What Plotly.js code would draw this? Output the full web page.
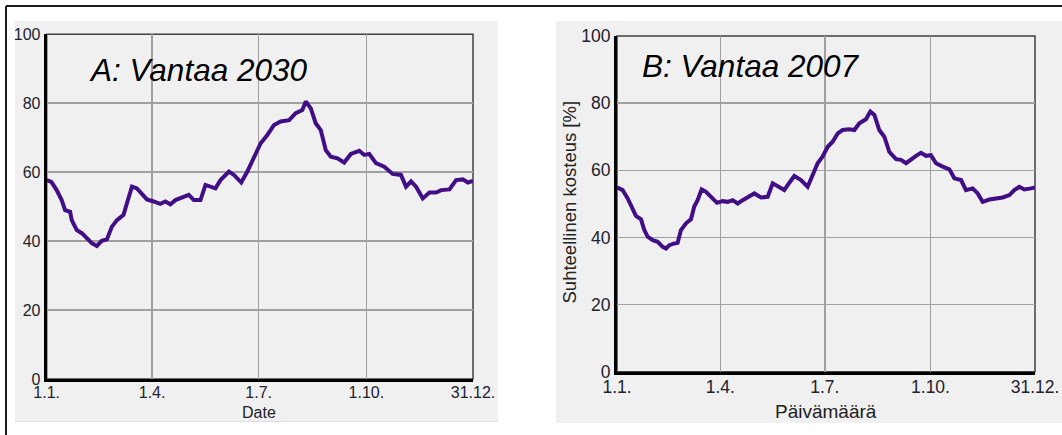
<!DOCTYPE html>
<html>
<head>
<meta charset="utf-8">
<script src="https://cdn.plot.ly/plotly-3.0.1.min.js"></script>
<style>
html,body{margin:0;padding:0;background:#fff;}
#chart{width:1062px;height:435px;}
</style>
</head>
<body>
<div id="chart"></div>
<script>
// Day of year (0 = 1.1.) and relative humidity [%]
const daysA = [0,4,8.5,12.8,15.7,20,21.4,25.7,30,34.3,38.5,42.8,47,51.4,55.7,60,65.6,68.5,72.8,77,81.3,85.6,91.3,97,101.3,105.6,109.9,115.6,121.3,125.6,131.3,135.6,139.9,144.1,148.4,155.6,159.9,166.1,171.3,177,182.7,188.4,194.1,199.8,207,212.6,218.3,221.2,225.5,229.7,234,238.3,242.6,248.3,254,259.7,266.9,271.1,275.4,281.1,288.2,295.4,302.5,306.8,311.1,315.4,321.1,326.8,332.5,336.8,343.9,349.6,355.3,359.6,364];
const rhA   = [57.7,57.2,54.8,51.9,49,48.5,46.1,43.2,42.3,40.8,39.4,38.6,40.1,40.5,44.2,46.1,47.6,51,55.8,55.3,53.9,52.1,51.5,50.8,51.5,50.7,51.9,52.7,53.4,51.9,51.9,56.3,55.8,55.3,57.7,60.2,59.2,57,60.2,64.5,68.4,70.8,73.7,74.7,75.1,77.1,78,80.5,78.5,74.2,72.2,66.4,64.5,64,62.8,65.3,66.2,65,65.3,62.6,61.6,59.5,59.2,55.8,57.3,55.8,52.4,54.1,54.1,54.8,55,57.7,57.9,57,57.5];

const daysB = [0,4.9,9.3,13.6,16.5,20.9,23.8,26.7,31.1,35.4,39.8,42.7,45.6,49.9,52.8,55.7,60.1,64.4,67.3,70.2,73.7,77.5,81.9,87.1,92,96.4,100.7,105.1,109.4,113.8,119.6,125.4,131.2,135.6,141.4,145.7,150.1,154.4,160.2,166,170.4,174.7,179.1,183.5,187.8,192.2,196.5,202.3,206.7,211,216.8,220.6,224.1,228.4,232.8,237.1,243,247.3,251.7,256,260.4,264.7,269.1,273.4,277.8,283.6,289.4,293.8,299.6,303.9,309.7,314.1,318.4,324.2,330,335.9,341.7,346,350.4,354.7,360.5,364];
const rhB   = [54.9,54.1,51.6,48.7,46.4,45.4,42.2,40.2,39.2,38.7,37.2,36.7,37.7,38.2,38.4,42.2,44.2,45.4,49.2,51.1,54.3,53.6,52.1,50.3,50.8,50.6,51.1,50.1,51.1,52.1,53.1,51.9,52.1,56.1,55.1,54.1,56.3,58.3,57.1,55.1,58.6,62.1,64.1,67,68.5,71,72,72.2,72,74,75.2,77.5,76.5,72,70,65.5,63.3,63.1,62.1,63.3,64.3,65.2,64.3,64.5,62.1,61.1,60.3,57.6,57.1,54.1,54.6,53.1,50.6,51.3,51.6,51.9,52.6,54.1,55.1,54.3,54.6,54.9];

const xTickVals = [0,90,181,273,364];
const xTickText = ['1.1.','1.4.','1.7.','1.10.','31.12.'];
const yTickVals = [0,20,40,60,80,100];
const yTickText = ['0','20','40','60','80','100'];

const titleA = 'A: Vantaa 2030';
const titleB = 'B: Vantaa 2007';
const xTitleA = 'Date';
const xTitleB = 'Päivämäärä';
const yTitleB = 'Suhteellinen kosteus [%]';

const W = 1062, H = 435;
const px = v => v / W;
const py = v => 1 - v / H;

const lineColor = '#420e86';
const FONT = '"Liberation Sans", Arial, sans-serif';

const traces = [
  {x: daysA, y: rhA, xaxis: 'x', yaxis: 'y', mode: 'lines', type: 'scatter',
   line: {color: lineColor, width: 4, shape: 'linear'}, hoverinfo: 'x+y', showlegend: false},
  {x: daysB, y: rhB, xaxis: 'x2', yaxis: 'y2', mode: 'lines', type: 'scatter',
   line: {color: lineColor, width: 4, shape: 'linear'}, hoverinfo: 'x+y', showlegend: false}
];

function xax(domain, size) {
  return {domain: domain, range: [0, 364], tickvals: xTickVals, ticktext: xTickText,
    showgrid: true, gridcolor: '#a0a0a0', gridwidth: 1.5, zeroline: false,
    showline: true, linecolor: '#000', linewidth: 3, ticks: '', ticklabelstandoff: -3,
    tickfont: {family: FONT, size: size, color: '#22222e'}, fixedrange: true};
}
function yax(domain, size, anchor) {
  return {domain: domain, range: [0, 100], tickvals: yTickVals, ticktext: yTickText,
    showgrid: true, gridcolor: '#a0a0a0', gridwidth: 1.5, zeroline: false,
    showline: true, linecolor: '#000', linewidth: 3, ticks: '', anchor: anchor,
    tickfont: {family: FONT, size: size, color: '#22222e'}, fixedrange: true};
}

const layout = {
  width: W, height: H, autosize: false,
  margin: {l: 0, r: 0, t: 0, b: 0, pad: 0},
  paper_bgcolor: '#ffffff', plot_bgcolor: 'rgba(0,0,0,0)',
  showlegend: false,
  xaxis: Object.assign(xax([px(46.7), px(473)], 16), {anchor: 'y'}),
  yaxis: yax([py(379), py(34.3)], 16, 'x'),
  xaxis2: Object.assign(xax([px(617), px(1035)], 17.5), {anchor: 'y2'}),
  yaxis2: yax([py(371.7), py(36)], 17.5, 'x2'),
  shapes: [
    {type: 'rect', xref: 'paper', yref: 'paper', layer: 'below',
     x0: px(15), x1: px(498), y0: py(421), y1: py(21), fillcolor: '#f0f0f0', line: {width: 0}},
    {type: 'line', xref: 'paper', yref: 'paper', layer: 'below',
     x0: px(15), x1: px(498), y0: py(421.5), y1: py(421.5), line: {color: '#dbe0e8', width: 1}},
    {type: 'rect', xref: 'paper', yref: 'paper', layer: 'below',
     x0: px(556), x1: px(1062), y0: py(423), y1: py(21), fillcolor: '#f0f0f0', line: {width: 0}},
    {type: 'line', xref: 'paper', yref: 'paper', layer: 'above',
     x0: px(6), x1: px(1062), y0: py(6), y1: py(6), line: {color: '#1a1a1a', width: 2}},
    {type: 'line', xref: 'paper', yref: 'paper', layer: 'above',
     x0: px(6), x1: px(6), y0: py(6), y1: py(435), line: {color: '#1a1a1a', width: 2}},
    {type: 'rect', xref: 'x domain', yref: 'y domain', layer: 'below',
     x0: 0, x1: 1, y0: 0, y1: 1, line: {color: '#404040', width: 1.5}},
    {type: 'rect', xref: 'x2 domain', yref: 'y2 domain', layer: 'below',
     x0: 0, x1: 1, y0: 0, y1: 1, line: {color: '#404040', width: 1.5}}
  ],
  annotations: [
    {text: titleA, xref: 'paper', yref: 'paper', x: px(87), y: py(70), xanchor: 'left', yanchor: 'middle',
     showarrow: false, font: {family: FONT, size: 31.5, color: '#000', style: 'italic'}},
    {text: titleB, xref: 'paper', yref: 'paper', x: px(640), y: py(66), xanchor: 'left', yanchor: 'middle',
     showarrow: false, font: {family: FONT, size: 31.5, color: '#000', style: 'italic'}},
    {text: xTitleA, xref: 'paper', yref: 'paper', x: px(258.7), y: py(412), xanchor: 'center', yanchor: 'middle',
     showarrow: false, font: {family: FONT, size: 16, color: '#222'}},
    {text: xTitleB, xref: 'paper', yref: 'paper', x: px(826), y: py(411), xanchor: 'center', yanchor: 'middle',
     showarrow: false, font: {family: FONT, size: 19, color: '#222'}},
    {text: yTitleB, xref: 'paper', yref: 'paper', x: px(569), y: py(202.5), xanchor: 'center', yanchor: 'middle',
     textangle: -90, showarrow: false, font: {family: FONT, size: 18.5, color: '#222'}}
  ]
};

Plotly.newPlot('chart', traces, layout, {displayModeBar: false, staticPlot: true});
</script>
</body>
</html>
